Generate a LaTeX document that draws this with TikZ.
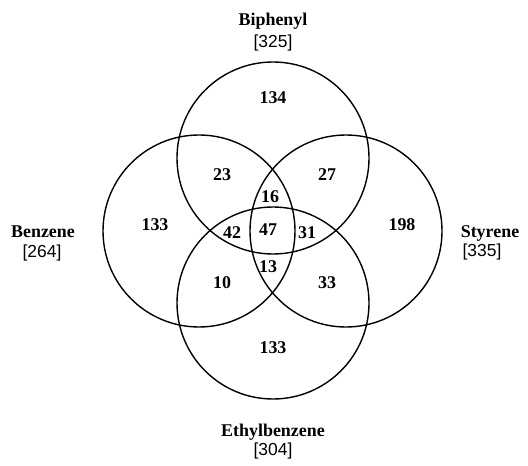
\documentclass[tikz,border=0pt]{standalone}
\usepackage{fontspec}
\setmainfont{Liberation Serif}
\newfontfamily\brkfont{Liberation Sans}
\begin{document}
\begin{tikzpicture}[x=1bp,y=-1bp,
  setcircle/.style={draw=black,line width=1.4bp},
  num/.style={inner sep=0pt,font=\fontsize{18}{21}\selectfont\bfseries},
  setname/.style={inner sep=0pt,font=\fontsize{18}{21}\selectfont\bfseries},
  setsize/.style={inner sep=0pt,font=\fontsize{17.5}{21}\selectfont\brkfont}]
\useasboundingbox (0,0) rectangle (528,466);
% circles
\draw[setcircle] (273,158) circle (96);
\draw[setcircle] (199,231) circle (96);
\draw[setcircle] (346,231) circle (96);
\draw[setcircle] (273,303) circle (96);
% set labels
\node[setname] (bip) at (273,21) {Biphenyl};
\node[setsize] (bipn) at (273,43) {[325]};
\node[setname] (ben) at (43,232) {Benzene};
\node[setsize] (benn) at (42,253) {[264]};
\node[setname] (sty) at (490,233) {Styrene};
\node[setsize] (styn) at (482,252) {[335]};
\node[setname] (eth) at (273,432) {Ethylbenzene};
\node[setsize] (ethn) at (273,451) {[304]};
% region counts
\node[num] (r1) at (273,98) {134};
\node[num] (r2) at (222,175) {23};
\node[num] (r3) at (327,175) {27};
\node[num] (r4) at (155,225) {133};
\node[num] (r5) at (402,225) {198};
\node[num] (r6) at (270,197) {16};
\node[num] (r7) at (232,233) {42};
\node[num] (r8) at (268,230) {47};
\node[num] (r9) at (307,233) {31};
\node[num] (r10) at (268,267) {13};
\node[num] (r11) at (222,283) {10};
\node[num] (r12) at (327,283) {33};
\node[num] (r13) at (273,348) {133};
\end{tikzpicture}
\end{document}
